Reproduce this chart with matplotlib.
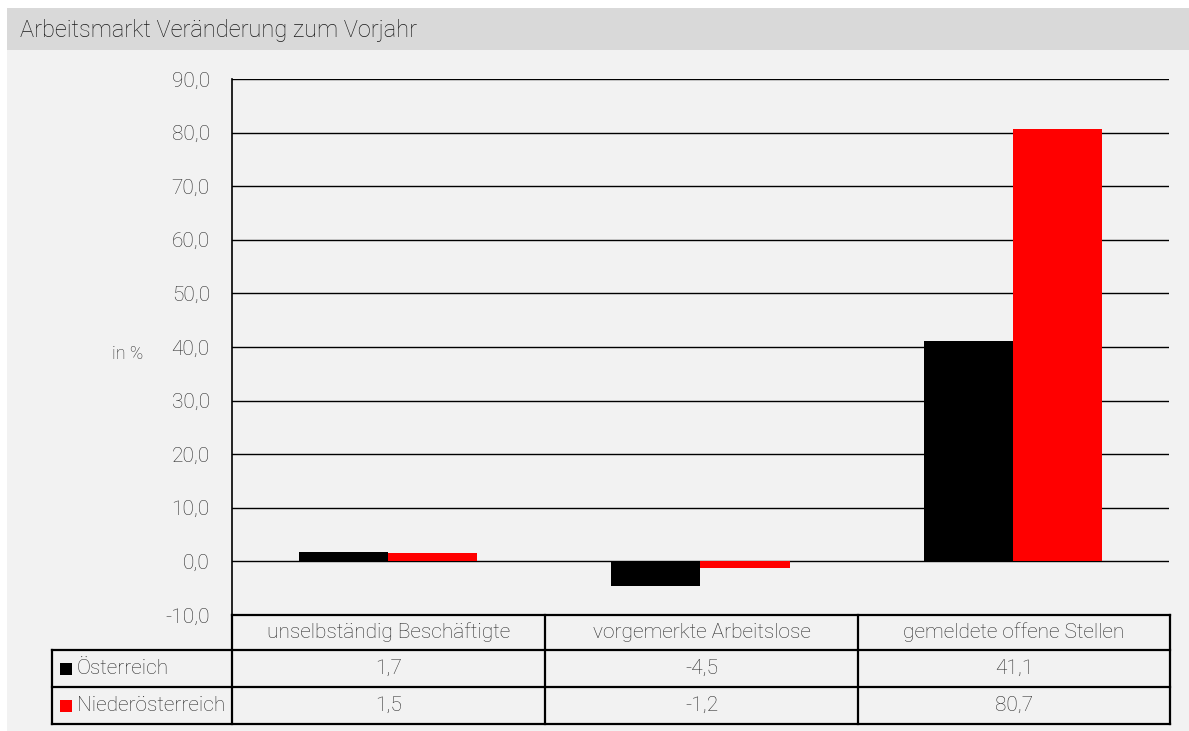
import numpy as np
import matplotlib
matplotlib.use("Agg")
import matplotlib.pyplot as plt
from matplotlib.patches import Rectangle

# data
categories = ["unselbständig Beschäftigte", "vorgemerkte Arbeitslose", "gemeldete offene Stellen"]
series_names = ["Österreich", "Niederösterreich"]
oesterreich = [1.7, -4.5, 41.1]
niederoesterreich = [1.5, -1.2, 80.7]
yticks = [-10, 0, 10, 20, 30, 40, 50, 60, 70, 80, 90]

colors = ["#000000", "#ff0000"]
txt = "#2b2b2b"
plt.rcParams['font.family'] = ['Roboto', 'DejaVu Sans']
plt.rcParams['font.weight'] = 'light'

W, H = 1189, 731
fig = plt.figure(figsize=(W / 100, H / 100), dpi=100)
fig.patch.set_facecolor("white")

def fx(px):
    return px / W

def fy(py):
    return 1 - py / H

# background and title bar
fig.patches.append(Rectangle((fx(7), 0), 1 - fx(7), fy(50), transform=fig.transFigure,
                             facecolor="#f2f2f2", edgecolor="none", zorder=-10))
fig.patches.append(Rectangle((fx(7), fy(50)), 1 - fx(7), fy(8) - fy(50), transform=fig.transFigure,
                             facecolor="#d9d9d9", edgecolor="none", zorder=-10))
fig.text(fx(20), fy(31), "Arbeitsmarkt Veränderung zum Vorjahr", fontsize=17, color="#1a1a1a",
         va="center", ha="left")

# plot area
x0, x1, ytop, ybot = 232, 1169, 79, 615
ax = fig.add_axes([fx(x0), fy(ybot), fx(x1) - fx(x0), fy(ytop) - fy(ybot)])
ax.set_facecolor("none")
ax.set_xlim(-0.5, len(categories) - 0.5)
ax.set_ylim(-10, 90)
for y in yticks[1:]:
    ax.axhline(y, color="black", lw=1, zorder=1)
x = np.arange(len(categories))
bw = 0.285
ax.bar(x - bw / 2, oesterreich, bw, color=colors[0], zorder=2)
ax.bar(x + bw / 2, niederoesterreich, bw, color=colors[1], zorder=2)
for s in ["top", "right", "bottom"]:
    ax.spines[s].set_visible(False)
ax.spines["left"].set_linewidth(1.2)
ax.set_xticks([])
ax.set_yticks(yticks)
ax.set_yticklabels([f"{v:.1f}".replace(".", ",") for v in yticks], fontsize=15, color=txt)
ax.tick_params(axis="y", length=0, pad=16)
fig.text(fx(128), fy(354), "in %", fontsize=13, color=txt, ha="center", va="center")

# data table below the plot
ov = fig.add_axes([0, 0, 1, 1])
ov.set_xlim(0, W)
ov.set_ylim(H, 0)
ov.axis("off")
ov.patch.set_alpha(0)
cols = [232, 545, 858, 1170]
rows = [615, 650, 687, 724]
lw = 1.6
ov.plot([cols[0], cols[-1]], [rows[0], rows[0]], color="black", lw=lw)
for r in rows[1:]:
    ov.plot([52, cols[-1]], [r, r], color="black", lw=lw)
for c in cols:
    ov.plot([c, c], [rows[0], rows[-1]], color="black", lw=lw)
ov.plot([52, 52], [rows[1], rows[-1]], color="black", lw=lw)
for i, cat in enumerate(categories):
    cx = (cols[i] + cols[i + 1]) / 2
    ov.text(cx, (rows[0] + rows[1]) / 2, cat, fontsize=15, color=txt, ha="center", va="center")
    for j, vals in enumerate([oesterreich, niederoesterreich]):
        ov.text(cx, (rows[j + 1] + rows[j + 2]) / 2, f"{vals[i]:.1f}".replace(".", ","),
                fontsize=15, color=txt, ha="center", va="center")
for j, name in enumerate(series_names):
    cy = (rows[j + 1] + rows[j + 2]) / 2
    ov.add_patch(Rectangle((60, cy - 6), 12, 12, facecolor=colors[j], edgecolor="none"))
    ov.text(77, cy, name, fontsize=15, color=txt, ha="left", va="center")

fig.savefig("out.png", dpi=100)
